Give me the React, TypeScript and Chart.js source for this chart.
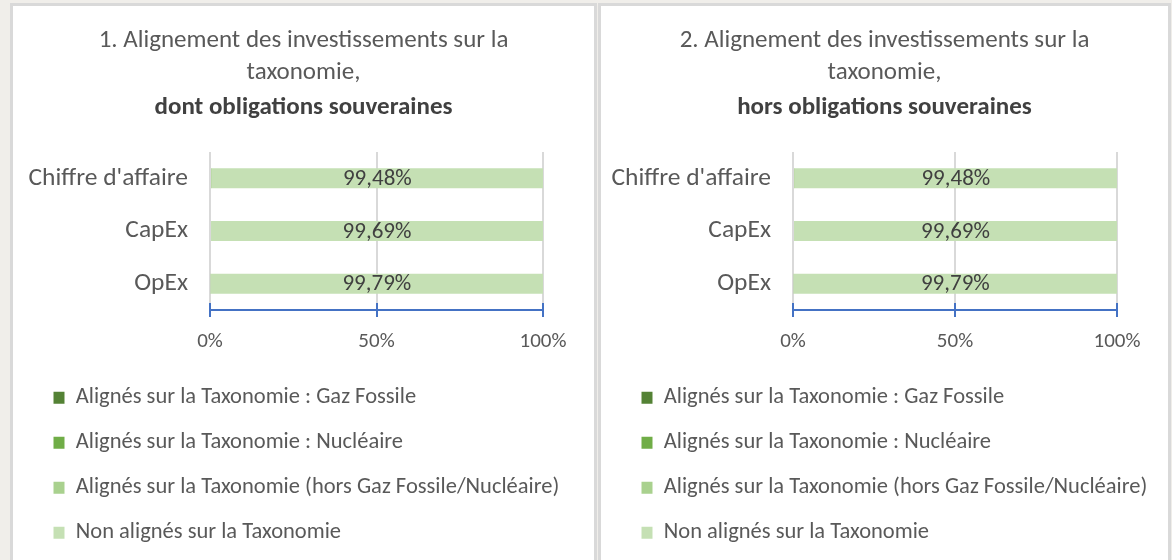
import React, { useEffect, useRef } from 'react';
import { Chart, registerables } from 'chart.js';

Chart.register(...registerables);

// ---------- data ----------
const categories = ["Chiffre d'affaire", 'CapEx', 'OpEx'];
const seriesNames = [
  'Alignés sur la Taxonomie : Gaz Fossile',
  'Alignés sur la Taxonomie : Nucléaire',
  'Alignés sur la Taxonomie (hors Gaz Fossile/Nucléaire)',
  'Non alignés sur la Taxonomie',
];
const gazFossile = [0, 0, 0];
const nucleaire = [0, 0, 0];
const alignesHors = [0.52, 0.31, 0.21];
const nonAlignes = [99.48, 99.69, 99.79];
const xTickValues = [0, 50, 100];

const panel1Title = ['1. Alignement des investissements sur la', 'taxonomie,'];
const panel1Subtitle = 'dont obligations souveraines';
const panel2Title = ['2. Alignement des investissements sur la', 'taxonomie,'];
const panel2Subtitle = 'hors obligations souveraines';

// ---------- styles ----------
const FONT = "Carlito, Calibri, Lato, 'Open Sans', sans-serif";
const seriesColors = ['#548235', '#70AD47', '#A9D18E', '#C5E0B4'];
const TEXT = '#595959';
const LABEL_DATASET = 3;
const CANVAS_H = 548;
const LEGEND_SHIFT = 18;

const fmtPct = (v: number) => v.toFixed(2).replace('.', ',') + '%';

const barLabelPlugin = {
  id: 'barLabels',
  afterDatasetsDraw(chart: any) {
    const { ctx } = chart;
    const meta = chart.getDatasetMeta(LABEL_DATASET);
    const values = chart.data.datasets[LABEL_DATASET].data as number[];
    ctx.save();
    ctx.font = `23px ${FONT}`;
    ctx.fillStyle = '#404040';
    ctx.textAlign = 'center';
    ctx.textBaseline = 'middle';
    meta.data.forEach((bar: any, i: number) => {
      const { x, y, base } = bar.getProps(['x', 'y', 'base'], true);
      ctx.fillText(fmtPct(values[i]), (x + base) / 2, y + 1);
    });
    ctx.restore();
  },
};

const crossTickPlugin = {
  id: 'crossTicks',
  afterDraw(chart: any) {
    const xs = chart.scales.x;
    const { ctx } = chart;
    ctx.save();
    ctx.strokeStyle = '#4472C4';
    ctx.lineWidth = 2;
    xs.ticks.forEach((t: any) => {
      const px = Math.round(xs.getPixelForValue(t.value));
      ctx.beginPath();
      ctx.moveTo(px, xs.top - 7);
      ctx.lineTo(px, xs.top + 1);
      ctx.stroke();
    });
    ctx.restore();
  },
};

// shifts the (full-width) legend block to the right, like the indented Excel legend
const legendIndentPlugin = {
  id: 'legendIndent',
  afterLayout(chart: any) {
    if (chart.legend) chart.legend.left += LEGEND_SHIFT;
  },
};

function Panel({ title, subtitle, width, yWidth, padRight }: any) {
  const ref = useRef<HTMLCanvasElement>(null);
  useEffect(() => {
    const data = [gazFossile, nucleaire, alignesHors, nonAlignes];
    const chart = new Chart(ref.current!, {
      type: 'bar',
      data: {
        labels: categories,
        datasets: data.map((d, i) => ({
          label: seriesNames[i],
          data: d,
          backgroundColor: seriesColors[i],
          borderWidth: 0,
          categoryPercentage: 0.38,
          barPercentage: 1,
        })),
      },
      options: {
        indexAxis: 'y',
        responsive: false,
        animation: false,
        devicePixelRatio: 1,
        layout: { padding: 0 },
        scales: {
          x: {
            stacked: true,
            min: 0,
            max: 100,
            afterBuildTicks: (s: any) => {
              s.ticks = xTickValues.map((v) => ({ value: v }));
            },
            afterFit: (s: any) => {
              s.height = 54;
              s.paddingRight = padRight;
            },
            grid: {
              color: '#D9D9D9',
              lineWidth: 2,
              tickColor: '#4472C4',
              tickWidth: 2,
              tickLength: 7,
            },
            border: { display: true, color: '#4472C4', width: 2 },
            ticks: {
              padding: 12,
              color: TEXT,
              font: { family: FONT, size: 21 },
              callback: (v: any) => v + '%',
              maxRotation: 0,
            },
          },
          y: {
            stacked: true,
            afterFit: (s: any) => {
              s.width = yWidth;
            },
            grid: { display: false, drawTicks: false },
            border: { display: false },
            ticks: {
              padding: 22,
              color: TEXT,
              font: { family: FONT, size: 25.5 },
            },
          },
        },
        plugins: {
          tooltip: { enabled: false },
          title: {
            display: true,
            text: title,
            color: TEXT,
            font: { family: FONT, size: 25, weight: 'normal', lineHeight: 1.3 },
            padding: { top: 18, bottom: 0 },
          },
          subtitle: {
            display: true,
            text: subtitle,
            color: '#404040',
            font: { family: FONT, size: 25, weight: 'bold', lineHeight: 1.3 },
            padding: { top: 2, bottom: 28.5 },
          },
          legend: {
            display: true,
            position: 'bottom',
            align: 'start',
            labels: {
              boxWidth: 11,
              boxHeight: 12,
              padding: 22.5,
              color: TEXT,
              font: { family: FONT, size: 22.5 },
            },
          },
        },
      } as any,
      plugins: [barLabelPlugin, crossTickPlugin, legendIndentPlugin],
    });
    return () => chart.destroy();
  }, []);
  return (
    <canvas
      ref={ref}
      width={width}
      height={CANVAS_H}
      style={{ display: 'block', width, height: CANVAS_H }}
    />
  );
}

export default function App() {
  const panelBase: React.CSSProperties = {
    position: 'absolute',
    top: 3,
    height: 620,
    border: '3px solid #D9D9D9',
    boxSizing: 'border-box',
    background: '#FFFFFF',
    overflow: 'hidden',
  };
  return (
    <div
      style={{
        position: 'fixed',
        inset: 0,
        background: '#F0EEEA',
        overflow: 'hidden',
      }}
    >
      <div style={{ ...panelBase, left: 10, width: 587 }}>
        <Panel title={panel1Title} subtitle={panel1Subtitle} width={581} yWidth={197} padRight={51} />
      </div>
      <div style={{ ...panelBase, left: 598, width: 573 }}>
        <Panel title={panel2Title} subtitle={panel2Subtitle} width={567} yWidth={192} padRight={51} />
      </div>
    </div>
  );
}
